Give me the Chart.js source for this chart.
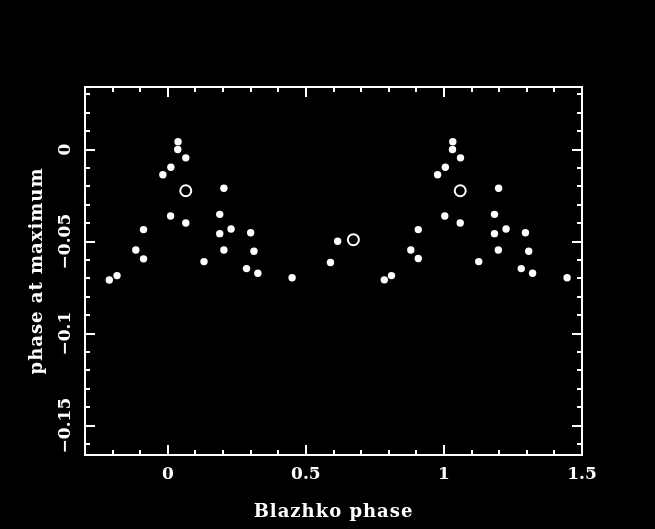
<!DOCTYPE html>
<html>
<head>
<meta charset="utf-8">
<script src="https://cdn.jsdelivr.net/npm/chart.js@4.4.1/dist/chart.umd.min.js"></script>
<style>
 body { margin: 0; background: #000; }
 #wrap { width: 655px; height: 529px; }
</style>
</head>
<body>
<div id="wrap"><canvas id="myChart" width="655" height="529"></canvas></div>
<script>
'use strict';

// filled dots, Blazhko phase (x) and phase at maximum (y)
var dotX = [-0.212, -0.184, -0.116, -0.088, -0.088, -0.018, 0.011, 0.037, 0.036, 0.065,
            0.010, 0.065, 0.131, 0.203, 0.188, 0.229, 0.188, 0.203, 0.300, 0.312,
            0.285, 0.326, 0.450, 0.589, 0.615,
            0.784, 0.810, 0.880, 0.907, 0.907, 0.977, 1.005, 1.032, 1.031, 1.060,
            1.003, 1.059, 1.126, 1.198, 1.183, 1.225, 1.183, 1.197, 1.295, 1.307,
            1.280, 1.321, 1.446];
var dotY = [-0.0709, -0.0685, -0.0546, -0.0594, -0.0435, -0.0137, -0.0096, 0.0043, 0.0, -0.0045,
            -0.0361, -0.0399, -0.0609, -0.0210, -0.0352, -0.0432, -0.0457, -0.0546, -0.0452, -0.0553,
            -0.0647, -0.0672, -0.0697, -0.0614, -0.0498,
            -0.0708, -0.0685, -0.0546, -0.0592, -0.0435, -0.0137, -0.0096, 0.0043, 0.0, -0.0045,
            -0.0361, -0.0399, -0.0609, -0.0210, -0.0352, -0.0432, -0.0457, -0.0546, -0.0452, -0.0553,
            -0.0647, -0.0672, -0.0697];
// open circles
var ringX = [0.065, 0.672, 1.059];
var ringY = [-0.0224, -0.0490, -0.0224];

var xTicks = [0, 0.5, 1, 1.5];
var xTickText = ['0', '0.5', '1', '1.5'];
var yTicks = [0, -0.05, -0.1, -0.15];
var yTickText = ['0', '\u22120.05', '\u22120.1', '\u22120.15'];
var xTitle = 'Blazhko phase';
var yTitle = 'phase at maximum';

function toPoints(xs, ys) {
 return xs.map(function (x, i) { return { x: x, y: ys[i] }; });
}

var FONT = 'bold 17px "DejaVu Serif"';
var TITLE_FONT = 'bold 18px "DejaVu Serif"';

var framePlugin = {
 id: 'frame',
 beforeDatasetsDraw: function (chart) {
  var c = chart.ctx, a = chart.chartArea;
  var sx = chart.scales.x, sy = chart.scales.y;
  c.save();
  c.strokeStyle = '#fff';
  c.lineWidth = 2;
  c.strokeRect(a.left, a.top, a.right - a.left, a.bottom - a.top);
  c.beginPath();
  // x ticks every 0.1, majors longer
  for (var i = -2; i <= 14; i++) {
   var v = i / 10;
   var px = Math.round(sx.getPixelForValue(v));
   var len = (i % 5 === 0) ? 10 : 5;
   c.moveTo(px, a.bottom); c.lineTo(px, a.bottom - len);
   c.moveTo(px, a.top); c.lineTo(px, a.top + len);
  }
  // y ticks every 0.01
  for (var j = -16; j <= 3; j++) {
   var py = Math.round(sy.getPixelForValue(j / 100));
   var l2 = (j % 5 === 0) ? 10 : 5;
   c.moveTo(a.left, py); c.lineTo(a.left + l2, py);
   c.moveTo(a.right, py); c.lineTo(a.right - l2, py);
  }
  c.stroke();

  c.fillStyle = '#fff';
  c.font = FONT;
  c.textAlign = 'center';
  c.textBaseline = 'middle';
  xTicks.forEach(function (v, k) {
   c.fillText(xTickText[k], sx.getPixelForValue(v), a.bottom + 20);
  });
  yTicks.forEach(function (v, k) {
   c.save();
   c.translate(a.left - 19, sy.getPixelForValue(v));
   c.rotate(-Math.PI / 2);
   c.fillText(yTickText[k], 0, 0);
   c.restore();
  });
  c.font = TITLE_FONT;
  c.letterSpacing = '1px';
  c.fillText(xTitle, (a.left + a.right) / 2, a.bottom + 57);
  c.save();
  c.translate(a.left - 48, (a.top + a.bottom) / 2);
  c.rotate(-Math.PI / 2);
  c.fillText(yTitle, 0, 0);
  c.restore();
  c.restore();
 }
};

var ctx = document.getElementById('myChart');
var myChart = new Chart(ctx, {
 type: 'scatter',
 data: {
  datasets: [{
   data: toPoints(dotX, dotY),
   backgroundColor: '#fff',
   borderWidth: 0,
   pointRadius: 3.7
  }, {
   data: toPoints(ringX, ringY),
   backgroundColor: 'rgba(0,0,0,0)',
   borderColor: '#fff',
   borderWidth: 2,
   pointRadius: 5.5
  }]
 },
 options: {
  responsive: false,
  animation: false,
  events: [],
  layout: { padding: { left: 85, top: 87, right: 73, bottom: 74 } },
  plugins: { legend: { display: false }, tooltip: { enabled: false } },
  scales: {
   x: { type: 'linear', min: -0.3, max: 1.5, display: false },
   y: { type: 'linear', min: -0.166, max: 0.034, display: false }
  }
 },
 plugins: [framePlugin]
});
</script>
</body>
</html>
